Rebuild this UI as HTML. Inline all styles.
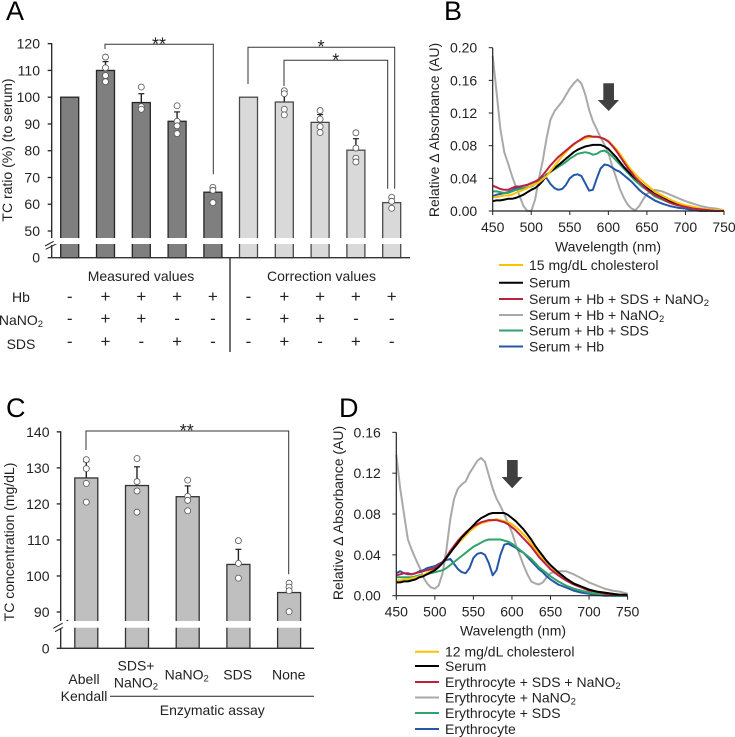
<!DOCTYPE html>
<html>
<head>
<meta charset="utf-8">
<style>
html,body{margin:0;padding:0;background:#fff;width:735px;height:737px;overflow:hidden}
svg{display:block}
text{font-family:"Liberation Sans",sans-serif;font-size:14px;fill:#222}
</style>
</head>
<body>
<svg id="fig" xmlns="http://www.w3.org/2000/svg" width="735" height="737" viewBox="0 0 735 737">
  <text x="6" y="20" style="font-size:27px;fill:#000">A</text>
  <text x="444" y="20" style="font-size:27px;fill:#000">B</text>
  <text x="6" y="417" style="font-size:27px;fill:#000">C</text>
  <text x="339" y="417" style="font-size:27px;fill:#000">D</text>

  <text transform="translate(12,150) rotate(-90)" text-anchor="middle">TC ratio (%) (to serum)</text>
  <text transform="translate(439,130) rotate(-90)" text-anchor="middle">Relative Δ Absorbance (AU)</text>
  <text transform="translate(14,542) rotate(-90)" text-anchor="middle">TC concentration (mg/dL)</text>
  <text transform="translate(343,513) rotate(-90)" text-anchor="middle">Relative Δ Absorbance (AU)</text>

  <text x="608" y="251.5" text-anchor="middle">Wavelength (nm)</text>
  <text x="513" y="635.5" text-anchor="middle">Wavelength (nm)</text>

  <text x="141" y="281" text-anchor="middle">Measured values</text>
  <text x="321.5" y="281" text-anchor="middle">Correction values</text>
  <text x="21" y="302" text-anchor="middle">Hb</text>
  <text x="21" y="325" text-anchor="middle">NaNO<tspan dy="2" style="font-size:9.5px">2</tspan></text>
  <text x="21" y="349" text-anchor="middle">SDS</text>
  <line x1="230" y1="258" x2="230" y2="352" stroke="#222" stroke-width="1.3"/>

  <text x="84" y="684" text-anchor="middle">Abell</text>
  <text x="84" y="701" text-anchor="middle">Kendall</text>
  <text x="136" y="670.5" text-anchor="middle">SDS+</text>
  <text x="136" y="687.5" text-anchor="middle">NaNO<tspan dy="2" style="font-size:9.5px">2</tspan></text>
  <text x="186.7" y="679.5" text-anchor="middle">NaNO<tspan dy="2" style="font-size:9.5px">2</tspan></text>
  <text x="237.7" y="679.5" text-anchor="middle">SDS</text>
  <text x="288.7" y="679.5" text-anchor="middle">None</text>
  <line x1="110" y1="696.3" x2="314" y2="696.3" stroke="#222" stroke-width="1"/>
  <text x="212.3" y="715" text-anchor="middle">Enzymatic assay</text>

  <g fill="none" stroke="#333" stroke-width="1">
    <polyline points="105,49 105,44.3 213.3,44.3 213.3,174.3"/>
    <polyline points="248,84 248,47.3 394.7,47.3 394.7,188.7"/>
    <polyline points="284,86 284,60.3 387.7,60.3 387.7,188.7"/>
    <polyline points="86,450 86,431 288.7,431 288.7,574.3"/>
  </g>
  <text x="159" y="50.5" text-anchor="middle" style="font-size:18px">**</text>
  <text x="321" y="53" text-anchor="middle" style="font-size:18px">*</text>
  <text x="335.7" y="66.5" text-anchor="middle" style="font-size:18px">*</text>
  <text x="186.7" y="437" text-anchor="middle" style="font-size:18px">**</text>

  <polygon fill="#404040" points="603.3,83.3 614,83.3 614,100 619,100 608.7,111 597.7,100 603.3,100"/>
  <polygon fill="#404040" points="507,460 517.7,460 517.7,477 522.7,477 512.2,488.3 501.7,477 507,477"/>
  <g id="marks"></g>
</svg>
<script>
/* Panel A data */
var aBarsMeasured = [100, 110, 98, 91, 64.5];
var aBarsCorrection = [100, 98.2, 90.6, 80.2, 60.6];
var aErrMeasured = [100, 113.3, 101.3, 94.5, 66];
var aErrCorrection = [100, 101, 93.5, 84.5, 62.5];
var aPointsMeasured = [[], [115, 111, 108.1, 105.8], [103.8, 96.5, 95.5], [96.8, 91, 89.3, 86.4], [66.3, 65.2, 60.6]];
var aPointsCorrection = [[], [102.4, 101.3, 95.5, 93.4], [95, 91.8, 89, 86.8], [86.7, 81, 77.2, 75.8], [62.6, 61.1, 58.5]];
var aTicks = [50, 60, 70, 80, 90, 100, 110, 120];
var rowHb = ['-', '+', '+', '+', '+'];
var rowNaNO2 = ['-', '+', '+', '-', '-'];
var rowSDS = ['-', '+', '-', '+', '-'];

/* Panel C data */
var cBars = [127.2, 125.1, 122, 103.2, 95.4];
var cErr = [131.7, 130.3, 125, 107.4, 97];
var cPoints = [[132.3, 129.8, 125.7, 120.5], [132.6, 126.2, 123.6, 117.7], [126.6, 122.1, 121, 118.1], [109.8, 103.5, 99.4], [98, 96.9, 95.9, 90.1]];
var cTicks = [90, 100, 110, 120, 130, 140];

/* Spectra data */
var wavelengths = [450,455,460,465,470,475,480,485,490,495,
  500,505,510,515,520,525,530,535,540,545,550,555,560,565,570,575,580,585,590,595,
  600,605,610,615,620,625,630,635,640,645,
  650,660,670,680,690,700,710,720,730,740,750];
var xTicksNm = [450, 500, 550, 600, 650, 700, 750];
var bTicks = [0, 0.04, 0.08, 0.12, 0.16, 0.20];
var dTicks = [0, 0.04, 0.08, 0.12, 0.16];

var bGray = [.190,.145,.100,.072,.058,.043,.030,.018,.006,.000,
  .000,.014,.040,.062,.090,.112,.122,.128,.134,.142,.150,.156,.161,.156,.143,.124,.110,.100,.090,.081,
  .071,.055,.041,.027,.016,.008,.003,.001,.006,.014,
  .021,.026,.024,.020,.016,.012,.009,.006,.004,.003,.001];
var bBlue = [.018,.020,.021,.022,.023,.025,.028,.029,.031,.032,
  .034,.036,.038,.042,.040,.033,.028,.026,.027,.032,.040,.044,.045,.043,.034,.025,.026,.040,.052,.057,
  .056,.053,.050,.048,.044,.040,.036,.031,.026,.022,
  .019,.013,.009,.006,.004,.003,.001,.000,.000,.000,.000];
var bGreen = [.024,.024,.023,.022,.022,.024,.026,.027,.028,.029,
  .030,.033,.036,.040,.045,.048,.051,.054,.057,.060,.064,.067,.070,.071,.072,.071,.069,.070,.073,.074,
  .071,.067,.062,.057,.052,.047,.042,.037,.033,.029,
  .026,.018,.014,.010,.007,.005,.003,.002,.001,.000,.000];
var bBlack = [.012,.013,.013,.014,.015,.015,.016,.018,.020,.023,
  .026,.028,.032,.037,.044,.048,.052,.056,.060,.064,.068,.072,.075,.077,.079,.080,.081,.081,.081,.079,
  .076,.071,.066,.060,.054,.049,.044,.040,.036,.032,
  .028,.021,.016,.012,.009,.006,.004,.002,.001,.000,.000];
var bYellow = [.017,.017,.018,.019,.019,.020,.022,.024,.026,.028,
  .031,.033,.035,.039,.043,.049,.055,.061,.067,.072,.077,.081,.085,.087,.089,.090,.091,.091,.090,.088,
  .086,.081,.076,.070,.063,.056,.050,.045,.040,.036,
  .032,.024,.019,.014,.010,.007,.005,.003,.002,.001,.001];
var bRed = [.031,.029,.027,.026,.026,.028,.030,.030,.031,.032,
  .034,.036,.039,.044,.050,.056,.061,.066,.070,.074,.078,.082,.085,.088,.091,.092,.091,.091,.090,.088,
  .085,.080,.074,.067,.060,.053,.047,.041,.036,.031,
  .026,.020,.015,.010,.007,.005,.003,.002,.001,.000,.000];

var dGray = [.138,.105,.080,.055,.045,.036,.028,.018,.012,.008,
  .007,.010,.022,.045,.075,.095,.105,.109,.112,.120,.126,.132,.135,.131,.118,.105,.095,.088,.080,.071,
  .062,.050,.040,.030,.021,.014,.012,.011,.013,.018,
  .022,.024,.024,.021,.017,.013,.010,.007,.005,.004,.002];
var dBlue = [.022,.024,.022,.021,.021,.022,.024,.025,.027,.028,
  .029,.031,.033,.035,.036,.031,.026,.023,.022,.027,.037,.041,.042,.040,.032,.020,.025,.040,.050,.051,
  .049,.047,.044,.042,.038,.034,.030,.026,.023,.019,
  .016,.011,.008,.005,.003,.002,.001,.000,.000,.000,.000];
var dGreen = [.018,.018,.018,.018,.018,.019,.020,.020,.021,.022,
  .023,.024,.025,.027,.030,.033,.036,.039,.042,.045,.048,.050,.052,.054,.055,.055,.055,.055,.054,.053,
  .051,.048,.045,.042,.039,.036,.032,.028,.025,.022,
  .019,.014,.010,.007,.005,.003,.002,.001,.000,.000,.000];
var dYellow = [.015,.015,.016,.016,.017,.018,.019,.020,.022,.024,
  .026,.029,.032,.037,.043,.047,.051,.055,.059,.063,.066,.069,.071,.072,.073,.074,.075,.074,.073,.072,
  .070,.067,.064,.060,.056,.051,.046,.041,.037,.033,
  .029,.022,.016,.012,.009,.006,.004,.003,.002,.001,.001];
var dRed = [.020,.021,.022,.022,.021,.022,.023,.024,.025,.026,
  .027,.030,.033,.038,.044,.049,.054,.058,.062,.065,.068,.070,.072,.073,.074,.074,.074,.073,.072,.070,
  .067,.064,.060,.056,.052,.048,.043,.038,.034,.030,
  .026,.020,.015,.011,.008,.005,.004,.002,.001,.001,.000];
var dBlack = [.013,.013,.014,.014,.015,.016,.018,.019,.021,.023,
  .025,.028,.032,.037,.042,.047,.052,.057,.061,.065,.069,.073,.076,.078,.080,.081,.081,.081,.081,.079,
  .076,.073,.069,.065,.060,.055,.049,.044,.039,.034,
  .030,.023,.017,.012,.009,.006,.004,.003,.002,.001,.001];

var bLegend = ['15 mg/dL cholesterol', 'Serum', 'Serum + Hb + SDS + NaNO', 'Serum + Hb + NaNO', 'Serum + Hb + SDS', 'Serum + Hb'];
var dLegend = ['12 mg/dL cholesterol', 'Serum', 'Erythrocyte + SDS + NaNO', 'Erythrocyte + NaNO', 'Erythrocyte + SDS', 'Erythrocyte'];

var NS = 'http://www.w3.org/2000/svg';
var root = document.getElementById('marks');
var C_YELLOW = '#FFC000', C_BLACK = '#000', C_RED = '#BE2140', C_GRAY = '#A9A9A9', C_GREEN = '#2FA36B', C_BLUE = '#2457A8';

function mk(tag, name, props, text) {
  var el = document.createElementNS(NS, tag);
  
  
  for (var k in props) { el.setAttribute(k, props[k]); }
  if (text !== undefined) { el.textContent = text; }
  root.appendChild(el);
  return el;
}
function line(name, x1, y1, x2, y2, color, w) {
  return mk('line', name, { x1: x1, y1: y1, x2: x2, y2: y2, stroke: color || '#222', 'stroke-width': w || 1.3 });
}

/* Broken-axis bar chart */
function barChart(o) {
  function yOf(v) { return o.yLow - (v - o.vLow) * o.k; }
  o.ticks.forEach(function (t) {
    line(o.id + '-tick-' + t, o.axisX - 4, yOf(t), o.axisX, yOf(t));
    mk('text', o.id + '-tick-label-' + t, { x: o.labelRight, y: yOf(t) + 5, 'text-anchor': 'end' }, String(t));
  });
  line(o.id + '-y-axis-upper', o.axisX, yOf(o.ticks[o.ticks.length - 1]) - 0.6, o.axisX, o.breakTop);
  line(o.id + '-y-axis-lower', o.axisX, o.breakBottom + 1, o.axisX, o.base);
  mk('text', o.id + '-tick-label-0', { x: o.labelRight, y: o.base + 5, 'text-anchor': 'end' }, '0');
  o.slashes.forEach(function (s, i) {
    line(o.id + '-axis-break-' + i, s[0], s[1], s[2], s[3], '#222', 1);
  });
  o.groups.forEach(function (g, gi) {
    g.bars.forEach(function (v, i) {
      var cx = g.start + i * o.step;
      var top = yOf(v);
      var errTop = yOf(g.err[i]);
      if (g.err[i] > v) {
        line(o.id + '-error-' + gi + '-' + i, cx, top, cx, errTop, '#222', 1.4);
        line(o.id + '-error-cap-' + gi + '-' + i, cx - 3, errTop, cx + 3, errTop, '#222', 1.2);
      }
      mk('rect', o.id + '-bar-' + gi + '-' + i, { x: cx - o.w / 2, y: top, width: o.w, height: o.base - top, fill: g.fill, stroke: g.stroke, 'stroke-width': 1.3 });
      g.points[i].forEach(function (p, pi) {
        mk('circle', o.id + '-point-' + gi + '-' + i + '-' + pi, { cx: cx, cy: yOf(p), r: 3, fill: '#fff', stroke: '#555', 'stroke-width': 0.8 });
      });
    });
  });
  mk('rect', o.id + '-break-band', { x: o.axisX + 2, y: o.breakTop, width: o.axisEnd - o.axisX - 2, height: o.breakBottom - o.breakTop, fill: '#fff' });
  line(o.id + '-x-axis', o.axisX - 4, o.base, o.axisEnd, o.base, '#333', 1.4);
}

barChart({
  id: 'panel-a', axisX: 51.7, axisEnd: 410, labelRight: 40, base: 257.7, yLow: 231, vLow: 50, k: 2.676,
  breakTop: 238, breakBottom: 244, step: 35.8, w: 18, ticks: aTicks,
  slashes: [[45, 246, 58.7, 238.7], [45.7, 249.3, 59.3, 242.3]],
  groups: [
    { start: 69.7, bars: aBarsMeasured, err: aErrMeasured, points: aPointsMeasured, fill: '#7F7F7F', stroke: '#262626' },
    { start: 248.5, bars: aBarsCorrection, err: aErrCorrection, points: aPointsCorrection, fill: '#D9D9D9', stroke: '#4a4a4a' }
  ]
});
barChart({
  id: 'panel-c', axisX: 60.7, axisEnd: 314, labelRight: 49.5, base: 648.3, yLow: 612, vLow: 90, k: 3.603,
  breakTop: 621, breakBottom: 627.7, step: 50.7, w: 23, ticks: cTicks,
  slashes: [[53.3, 628.3, 68.3, 620], [55, 631.7, 69, 624]],
  groups: [
    { start: 86.3, bars: cBars, err: cErr, points: cPoints, fill: '#BFBFBF', stroke: '#333' }
  ]
});

/* +/- table for panel A */
var tableRows = [['hb', rowHb, 302], ['nano2', rowNaNO2, 324], ['sds', rowSDS, 347]];
tableRows.forEach(function (r) {
  [69.7, 248.5].forEach(function (start, g) {
    r[1].forEach(function (s, i) {
      var el = mk('text', 'table-' + r[0] + '-' + g + '-' + i, { x: start + i * 35.8, y: r[2], 'text-anchor': 'middle' }, s);
      el.style.fontSize = '17px';
    });
  });
});

/* Spectra */
function spectrum(o) {
  function xOf(nm) { return o.x0 + (nm - 450) * o.kx; }
  function yOf(v) { return o.y0 - v * o.ky; }
  o.series.forEach(function (s) {
    var pts = wavelengths.map(function (w, i) { return xOf(w).toFixed(1) + ',' + yOf(s.values[i]).toFixed(1); }).join(' ');
    mk('polyline', o.id + '-line-' + s.name, { points: pts, fill: 'none', stroke: s.color, 'stroke-width': 2, 'stroke-linejoin': 'round' });
  });
  line(o.id + '-y-axis', o.x0, yOf(o.yTicks[o.yTicks.length - 1]), o.x0, o.y0, '#222', 1.2);
  line(o.id + '-x-axis', o.x0, o.y0, xOf(750), o.y0, '#222', 1.2);
  o.yTicks.forEach(function (t) {
    line(o.id + '-y-tick-' + t, o.x0 - 4, yOf(t), o.x0, yOf(t), '#222', 1);
    mk('text', o.id + '-y-tick-label-' + t, { x: o.x0 - 15.5, y: yOf(t) + 5, 'text-anchor': 'end' }, t.toFixed(2));
  });
  xTicksNm.forEach(function (t) {
    line(o.id + '-x-tick-' + t, xOf(t), o.y0, xOf(t), o.y0 + 4, '#222', 1);
    mk('text', o.id + '-x-tick-label-' + t, { x: xOf(t), y: o.y0 + 21, 'text-anchor': 'middle' }, String(t));
  });
  o.legend.forEach(function (label, i) {
    var y = o.legendY[i];
    line(o.id + '-legend-line-' + i, o.legendX, y, o.legendX + 24, y, o.legendColors[i], 2);
    var t = mk('text', o.id + '-legend-entry-' + i, { x: o.legendX + 30, y: y + 5 }, label);
    if (label.slice(-4) === 'NaNO') {
      var sub = document.createElementNS(NS, 'tspan');
      
      
      sub.setAttribute('dy', '2');
      sub.setAttribute('style', 'font-size:9.5px');
      sub.textContent = '2';
      t.appendChild(sub);
    }
  });
}
var legendColors = [C_YELLOW, C_BLACK, C_RED, C_GRAY, C_GREEN, C_BLUE];
spectrum({
  id: 'panel-b', x0: 492.7, y0: 211, kx: 0.771, ky: 816.5, yTicks: bTicks, legend: bLegend, legendColors: legendColors,
  legendX: 499, legendY: [265, 282.7, 299, 315, 330.5, 346.5],
  series: [
    { name: 'gray', values: bGray, color: C_GRAY },
    { name: 'blue', values: bBlue, color: C_BLUE },
    { name: 'green', values: bGreen, color: C_GREEN },
    { name: 'black', values: bBlack, color: C_BLACK },
    { name: 'yellow', values: bYellow, color: C_YELLOW },
    { name: 'red', values: bRed, color: C_RED }
  ]
});
spectrum({
  id: 'panel-d', x0: 396.3, y0: 595.7, kx: 0.771, ky: 1021, yTicks: dTicks, legend: dLegend, legendColors: legendColors,
  legendX: 415, legendY: [651.7, 666, 682, 697.5, 713, 729],
  series: [
    { name: 'gray', values: dGray, color: C_GRAY },
    { name: 'blue', values: dBlue, color: C_BLUE },
    { name: 'green', values: dGreen, color: C_GREEN },
    { name: 'yellow', values: dYellow, color: C_YELLOW },
    { name: 'red', values: dRed, color: C_RED },
    { name: 'black', values: dBlack, color: C_BLACK }
  ]
});
</script>
</body>
</html>
